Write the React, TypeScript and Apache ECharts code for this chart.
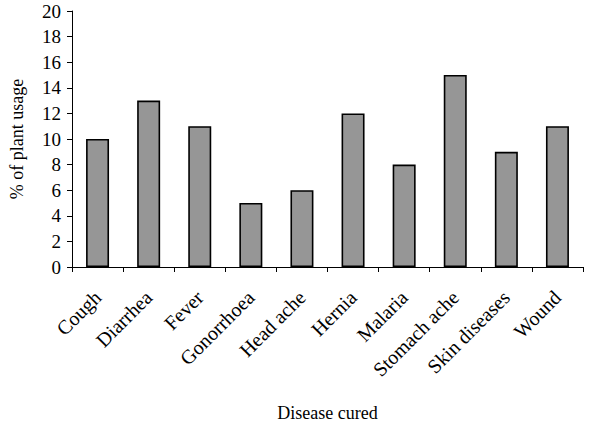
import React, { useEffect, useRef } from "react";
import * as echarts from "echarts";

const categories = ["Cough", "Diarrhea", "Fever", "Gonorrhoea", "Head ache", "Hernia", "Malaria", "Stomach ache", "Skin diseases", "Wound"];
const values = [10, 13, 11, 5, 6, 12, 8, 15, 9, 11];
const yTicks = { min: 0, max: 20, interval: 2 };

const FONT = "'Liberation Serif', 'Times New Roman', serif";

export default function App() {
  const ref = useRef<HTMLDivElement>(null);
  useEffect(() => {
    if (!ref.current) return;
    const chart = echarts.init(ref.current, null, { renderer: "svg" });
    chart.setOption({
      animation: false,
      backgroundColor: "#ffffff",
      grid: { left: 72, right: 17, top: 11, bottom: 167, containLabel: false },
      xAxis: {
        type: "category",
        data: categories,
        name: "Disease cured",
        nameLocation: "middle",
        nameGap: 137,
        nameTextStyle: { fontFamily: FONT, fontSize: 18, color: "#000" },
        axisLine: { lineStyle: { color: "#000", width: 1 } },
        axisTick: { show: true, length: 5, lineStyle: { color: "#000" } },
        axisLabel: { rotate: 45, interval: 0, margin: 27, fontFamily: FONT, fontSize: 20, color: "#000" },
      },
      yAxis: {
        type: "value",
        min: yTicks.min,
        max: yTicks.max,
        interval: yTicks.interval,
        name: "% of plant usage",
        nameLocation: "middle",
        nameGap: 46,
        nameTextStyle: { fontFamily: FONT, fontSize: 18, color: "#000" },
        axisLine: { show: true, lineStyle: { color: "#000", width: 1 } },
        axisTick: { show: true, length: 5, lineStyle: { color: "#000" } },
        splitLine: { show: false },
        axisLabel: { margin: 11, fontFamily: FONT, fontSize: 19, color: "#000" },
      },
      series: [
        {
          type: "bar",
          data: values,
          barWidth: "45%",
          itemStyle: { color: "#969696", borderColor: "#000", borderWidth: 1.6 },
        },
      ],
    });
    return () => chart.dispose();
  }, []);
  return <div ref={ref} style={{ width: 600, height: 434, position: "absolute", left: 0, top: 0 }} />;
}
